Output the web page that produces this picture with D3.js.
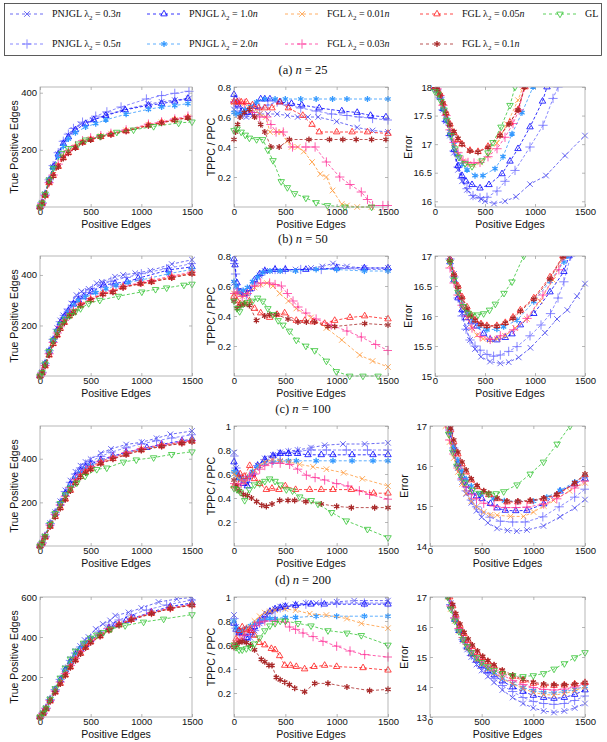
<!DOCTYPE html>
<html>
<head>
<meta charset="utf-8">
<script src="https://cdn.jsdelivr.net/npm/d3@7"></script>
<style>
  body { margin: 0; background: #fff; }
  text { font-family: "Liberation Sans", Arial, sans-serif; fill: #111; }
  .serif { font-family: "Liberation Serif", "DejaVu Serif", serif; }
</style>
</head>
<body>
<svg id="chart" width="607" height="742"></svg>
<script>
// series order: PNJGL 0.3n, 0.5n, 1.0n, 2.0n, FGL 0.01n, 0.03n, 0.05n, 0.1n, GL
const seriesNames = ['PNJGL', 'PNJGL', 'PNJGL', 'PNJGL', 'FGL', 'FGL', 'FGL', 'FGL', 'GL']
const seriesLambda = ['0.3', '0.5', '1.0', '2.0', '0.01', '0.03', '0.05', '0.1', null]
const seriesColors = ['#4646f0', '#6b6bff', '#0000ff', '#3399ff', '#ff9a3c', '#ff3399', '#ff1a1a', '#a82828', '#33c433']
const seriesMarkers = ['x', '+', 'tu', '*', 'x', '+', 'tu', '*', 'td']

const xTicks = [0, 500, 1000, 1500]
const rowLetters = ['(a)', '(b)', '(c)', '(d)']
const rowN = ['25', '50', '100', '200']
const tpeTicks = [[200, 400], [200, 400], [200, 400], [200, 400, 600]]
const tpeMax = [420, 475, 550, 600]
const ppcTicks = [[0.2, 0.4, 0.6, 0.8], [0.2, 0.4, 0.6, 0.8], [0.2, 0.4, 0.6, 0.8, 1], [0.2, 0.4, 0.6, 0.8, 1]]
const ppcMax = [0.8, 0.8, 1, 1]
const errTicks = [[16, 16.5, 17, 17.5, 18], [15, 15.5, 16, 16.5, 17], [14, 15, 16, 17], [13, 14, 15, 16, 17]]
const errDomain = [[15.9, 18], [15, 17], [14, 17], [13, 17]]

// each panel: 9 series as flat [x, y, x, y, ...]
const tpe25 = [
  [0,0, 20,15, 50,45, 90,95, 130,140, 180,185, 230,225, 280,250, 330,270, 400,290, 520,305, 650,322, 820,340, 1070,360, 1200,368, 1330,374, 1470,380],
  [0,0, 20,15, 50,45, 90,95, 130,145, 180,190, 230,230, 280,255, 330,275, 420,297, 550,318, 660,333, 800,350, 1050,378, 1200,390, 1330,398, 1470,405],
  [0,0, 20,14, 50,44, 90,93, 130,140, 180,185, 230,222, 280,245, 350,270, 450,292, 530,305, 650,320, 840,340, 1070,356, 1200,362, 1330,370, 1460,380],
  [0,0, 20,13, 50,42, 90,90, 130,135, 180,178, 230,212, 280,238, 350,260, 450,280, 550,292, 650,305, 850,325, 1070,342, 1200,350, 1330,355, 1460,362],
  [0,0, 20,12, 50,40, 90,85, 130,112, 180,145, 230,175, 280,192, 350,210, 420,228, 500,238, 600,248, 700,257, 850,268, 1070,288, 1200,296, 1330,305, 1460,314],
  [0,0, 20,12, 50,40, 90,85, 130,112, 180,150, 230,180, 280,197, 350,215, 420,232, 500,242, 600,250, 700,258, 850,270, 1070,290, 1200,298, 1330,308, 1460,318],
  [0,0, 20,12, 50,40, 90,85, 130,110, 180,142, 230,172, 280,190, 350,208, 420,226, 500,236, 600,246, 700,254, 850,266, 1070,286, 1200,296, 1330,305, 1460,313],
  [0,0, 20,12, 50,40, 90,85, 130,108, 180,140, 230,170, 280,188, 350,207, 420,225, 500,235, 600,245, 700,253, 850,265, 1070,285, 1200,294, 1330,304, 1460,312],
  [0,0, 20,14, 50,45, 90,95, 132,136, 214,188, 280,205, 379,221, 450,235, 593,247, 758,262, 923,270, 1121,282, 1368,294, 1500,298]
]
const ppc25 = [
  [0,0.65, 30,0.63, 70,0.61, 120,0.6, 180,0.61, 250,0.62, 330,0.62, 420,0.62, 520,0.61, 620,0.6, 720,0.6, 820,0.6, 1000,0.57, 1200,0.53, 1350,0.51, 1500,0.5],
  [0,0.7, 30,0.66, 70,0.63, 120,0.62, 180,0.63, 250,0.66, 330,0.68, 420,0.7, 520,0.68, 650,0.66, 800,0.64, 950,0.62, 1100,0.61, 1220,0.6, 1350,0.59, 1500,0.58],
  [0,0.75, 15,0.72, 40,0.68, 80,0.64, 130,0.63, 200,0.67, 260,0.72, 300,0.72, 350,0.72, 450,0.7, 560,0.69, 660,0.68, 830,0.66, 1050,0.64, 1200,0.63, 1330,0.61, 1480,0.6],
  [0,0.63, 20,0.62, 60,0.62, 110,0.65, 160,0.67, 220,0.7, 300,0.72, 400,0.72, 500,0.72, 650,0.72, 800,0.72, 960,0.72, 1100,0.72, 1300,0.72, 1500,0.72],
  [0,0.7, 50,0.7, 100,0.69, 180,0.65, 250,0.62, 310,0.6, 350,0.5, 420,0.5, 460,0.5, 520,0.44, 560,0.4, 620,0.4, 680,0.37, 760,0.3, 840,0.22, 900,0.2, 960,0.11, 1050,0.02, 1100,0.01, 1200,0, 1340,0],
  [0,0.7, 50,0.7, 100,0.69, 180,0.63, 250,0.6, 320,0.6, 360,0.55, 410,0.5, 480,0.5, 570,0.4, 700,0.4, 790,0.4, 900,0.3, 1030,0.2, 1130,0.15, 1240,0.1, 1300,0.05, 1350,0.01, 1450,0.01, 1500,0.01],
  [0,0.7, 30,0.7, 70,0.7, 120,0.7, 180,0.68, 240,0.66, 300,0.66, 370,0.66, 445,0.7, 530,0.66, 670,0.61, 760,0.55, 830,0.5, 1000,0.5, 1150,0.5, 1300,0.5, 1500,0.49],
  [0,0.45, 15,0.5, 35,0.55, 60,0.6, 100,0.63, 150,0.65, 200,0.6, 260,0.55, 300,0.5, 360,0.4, 440,0.4, 540,0.45, 730,0.45, 930,0.45, 1060,0.45, 1190,0.45, 1340,0.45, 1480,0.45],
  [0,0.51, 30,0.52, 70,0.5, 110,0.48, 150,0.46, 220,0.45, 280,0.45, 330,0.38, 380,0.31, 460,0.17, 520,0.13, 590,0.09, 700,0.06, 800,0.03, 910,0.01, 1080,0, 1340,0]
]
const err25 = [
  [0,18, 20,17.95, 50,17.82, 80,17.6, 110,17.4, 150,17.15, 190,16.85, 230,16.55, 270,16.35, 320,16.2, 380,16.08, 460,16.04, 500,16, 590,15.96, 700,16, 810,16.08, 950,16.3, 1110,16.45, 1300,16.8, 1500,17.15],
  [0,18, 20,17.95, 50,17.82, 80,17.6, 110,17.4, 150,17.15, 190,16.88, 230,16.6, 270,16.4, 320,16.22, 380,16.1, 450,16.06, 520,16.07, 620,16.18, 700,16.35, 800,16.54, 950,16.95, 1080,17.33, 1180,17.8, 1230,18],
  [0,18, 20,17.95, 50,17.82, 80,17.62, 110,17.42, 150,17.18, 190,16.9, 230,16.62, 270,16.45, 310,16.35, 370,16.29, 450,16.23, 540,16.29, 670,16.48, 750,16.7, 830,16.92, 950,17.3, 1075,17.75, 1120,18],
  [0,18, 20,17.95, 50,17.82, 80,17.63, 110,17.45, 150,17.22, 190,17, 230,16.8, 270,16.65, 320,16.55, 400,16.45, 480,16.45, 600,16.57, 680,16.78, 770,17.18, 870,17.55, 980,18],
  [0,18, 20,17.97, 50,17.85, 80,17.68, 110,17.5, 150,17.25, 190,17.02, 230,16.82, 280,16.7, 330,16.65, 380,16.64, 450,16.68, 530,16.8, 620,17.02, 720,17.35, 830,17.77, 880,18],
  [0,18, 20,17.97, 50,17.85, 80,17.68, 110,17.5, 150,17.25, 190,17.03, 230,16.85, 280,16.72, 330,16.68, 390,16.67, 450,16.68, 530,16.78, 620,16.92, 700,17.12, 780,17.36, 840,17.6, 890,18],
  [0,18, 20,17.98, 50,17.88, 80,17.72, 110,17.55, 150,17.35, 190,17.2, 230,17.08, 270,17, 350,16.89, 430,16.87, 530,16.96, 650,17.16, 750,17.38, 830,17.6, 900,18],
  [0,17.98, 20,17.96, 50,17.86, 80,17.72, 110,17.54, 150,17.34, 190,17.22, 230,17.1, 270,17, 350,16.88, 430,16.86, 530,16.94, 650,17.15, 740,17.35, 830,17.6, 895,18],
  [0,17.92, 30,17.88, 60,17.75, 90,17.6, 120,17.42, 160,17.15, 200,16.92, 240,16.77, 300,16.66, 370,16.61, 470,16.71, 530,16.85, 580,17.03, 660,17.3, 750,17.68, 800,18]
]
const tpe50 = [
  [0,0, 20,15, 50,50, 90,100, 130,145, 170,190, 200,220, 230,240, 265,255, 310,287, 360,320, 410,335, 480,345, 560,367, 610,373, 740,393, 820,400, 940,407, 1090,417, 1300,443, 1500,460],
  [0,0, 20,15, 50,50, 90,100, 130,145, 170,185, 200,215, 240,240, 280,265, 330,295, 380,315, 450,330, 520,345, 600,360, 700,375, 850,390, 1000,405, 1250,425, 1500,445],
  [0,0, 20,14, 50,48, 90,98, 130,142, 170,182, 200,210, 240,235, 280,258, 330,285, 380,300, 430,313, 510,333, 630,360, 740,367, 860,373, 970,387, 1270,420, 1500,432],
  [0,0, 20,14, 50,47, 90,96, 130,140, 170,178, 200,205, 240,230, 280,252, 330,280, 380,298, 450,312, 550,330, 650,345, 750,358, 870,370, 1000,380, 1270,405, 1500,422],
  [0,0, 20,12, 50,40, 90,85, 130,130, 170,165, 200,190, 240,215, 290,240, 330,255, 400,282, 500,303, 620,325, 720,335, 820,352, 1000,366, 1100,375, 1300,393, 1500,408],
  [0,0, 20,12, 50,42, 90,88, 130,133, 170,170, 200,195, 240,220, 290,245, 330,260, 400,285, 500,306, 620,328, 720,338, 820,355, 1000,370, 1100,378, 1300,396, 1500,411],
  [0,0, 20,12, 50,40, 90,83, 130,128, 170,162, 200,188, 240,212, 290,238, 330,252, 400,280, 500,302, 620,325, 720,333, 820,352, 990,367, 1100,373, 1300,390, 1500,406],
  [0,0, 20,12, 50,40, 90,82, 130,126, 170,160, 200,185, 240,210, 290,236, 330,250, 400,278, 500,300, 620,323, 720,332, 820,350, 990,365, 1100,372, 1300,388, 1500,405],
  [0,0, 20,14, 50,48, 90,98, 130,140, 170,175, 210,205, 250,225, 300,240, 350,255, 400,267, 480,287, 590,300, 775,316, 1005,333, 1140,343, 1250,349, 1420,360, 1500,364]
]
const ppc50 = [
  [0,0.62, 20,0.6, 50,0.57, 80,0.55, 120,0.55, 160,0.58, 200,0.62, 250,0.67, 300,0.7, 350,0.7, 450,0.7, 600,0.71, 750,0.72, 860,0.73, 964,0.75, 1100,0.73, 1270,0.72, 1500,0.72],
  [0,0.75, 15,0.68, 40,0.58, 80,0.55, 120,0.54, 160,0.57, 200,0.62, 250,0.67, 300,0.7, 400,0.71, 500,0.71, 650,0.71, 850,0.71, 1000,0.72, 1270,0.71, 1500,0.71],
  [0,0.78, 10,0.74, 30,0.62, 60,0.56, 100,0.55, 150,0.58, 200,0.64, 250,0.68, 300,0.7, 400,0.71, 500,0.71, 700,0.71, 1000,0.72, 1270,0.72, 1500,0.72],
  [0,0.63, 20,0.6, 50,0.56, 90,0.57, 130,0.59, 180,0.63, 230,0.66, 280,0.69, 350,0.7, 450,0.7, 600,0.7, 800,0.71, 1000,0.71, 1270,0.7, 1500,0.7],
  [0,0.55, 30,0.55, 80,0.53, 130,0.55, 200,0.59, 260,0.61, 320,0.62, 380,0.6, 445,0.55, 530,0.5, 607,0.45, 750,0.39, 900,0.32, 1050,0.24, 1224,0.14, 1350,0.1, 1500,0.06],
  [0,0.55, 30,0.56, 80,0.53, 130,0.55, 200,0.6, 260,0.62, 347,0.62, 400,0.61, 461,0.6, 520,0.55, 575,0.5, 623,0.46, 700,0.42, 800,0.38, 948,0.34, 1100,0.3, 1240,0.26, 1380,0.21, 1500,0.17],
  [0,0.53, 30,0.5, 60,0.48, 100,0.48, 150,0.5, 200,0.45, 260,0.42, 347,0.39, 420,0.41, 493,0.42, 607,0.37, 690,0.37, 769,0.36, 883,0.35, 981,0.37, 1130,0.39, 1273,0.4, 1500,0.38],
  [0,0.5, 30,0.45, 60,0.47, 100,0.48, 150,0.47, 218,0.37, 299,0.4, 347,0.41, 412,0.41, 526,0.38, 623,0.36, 705,0.36, 785,0.36, 915,0.33, 981,0.33, 1273,0.35, 1500,0.34],
  [0,0.5, 30,0.45, 55,0.43, 90,0.48, 130,0.49, 180,0.5, 230,0.52, 280,0.5, 330,0.45, 380,0.41, 430,0.37, 477,0.34, 540,0.3, 607,0.24, 700,0.2, 786,0.17, 900,0.1, 997,0.03, 1127,0, 1256,0, 1403,0]
]
const err50 = [
  [100,17.6, 150,17, 190,16.7, 230,16.35, 270,16.05, 310,15.8, 350,15.6, 400,15.45, 459,15.32, 550,15.24, 653,15.21, 737,15.23, 837,15.31, 954,15.47, 1100,15.72, 1220,15.95, 1323,16.1, 1420,16.33, 1500,16.54],
  [100,17.5, 150,16.95, 190,16.65, 230,16.3, 270,16, 310,15.78, 350,15.6, 400,15.5, 452,15.43, 520,15.36, 586,15.33, 653,15.35, 737,15.41, 820,15.49, 950,15.67, 1060,15.85, 1155,16.04, 1230,16.3, 1289,16.57, 1356,17],
  [100,17.4, 150,16.9, 190,16.6, 230,16.3, 270,16.1, 310,15.97, 360,15.9, 419,15.83, 486,15.71, 552,15.61, 619,15.6, 703,15.64, 770,15.7, 854,15.85, 988,16.04, 1150,16.4, 1289,16.74, 1340,17],
  [100,17.3, 150,16.9, 190,16.65, 230,16.4, 270,16.2, 320,16.05, 380,15.92, 440,15.83, 519,15.77, 619,15.78, 686,15.82, 820,15.93, 988,16.24, 1150,16.58, 1289,16.9, 1320,17],
  [100,17.2, 150,16.85, 190,16.6, 230,16.38, 270,16.18, 320,15.98, 370,15.8, 420,15.68, 480,15.62, 550,15.6, 620,15.62, 700,15.67, 800,15.8, 920,15.95, 1050,16.25, 1180,16.6, 1280,17],
  [100,17.2, 150,16.8, 190,16.55, 230,16.35, 270,16.18, 320,16, 370,15.8, 452,15.66, 552,15.61, 653,15.67, 787,15.77, 921,15.96, 1080,16.35, 1239,16.77, 1290,17],
  [100,17.3, 150,16.95, 190,16.7, 230,16.5, 270,16.32, 320,16.15, 360,16.02, 402,15.93, 460,15.87, 519,15.84, 619,15.84, 703,15.89, 780,15.98, 854,16.1, 988,16.3, 1150,16.65, 1279,17],
  [100,17.3, 150,16.92, 190,16.68, 230,16.48, 270,16.3, 320,16.12, 360,16, 402,15.93, 460,15.86, 519,15.83, 619,15.83, 703,15.88, 780,15.96, 854,16.08, 988,16.28, 1150,16.62, 1279,16.99],
  [100,17.4, 150,16.9, 190,16.6, 230,16.4, 285,16.16, 330,16.05, 368,16.02, 430,16.02, 486,16.04, 545,16.1, 603,16.2, 690,16.38, 770,16.57, 887,17]
]
const tpe100 = [
  [0,0, 20,15, 50,45, 100,105, 150,155, 200,205, 250,255, 300,300, 350,340, 400,368, 450,385, 500,398, 600,425, 700,445, 850,465, 1005,476, 1150,494, 1286,512, 1500,527],
  [0,0, 20,15, 50,45, 100,103, 150,153, 200,200, 250,250, 300,292, 350,330, 400,358, 450,375, 500,388, 600,410, 700,430, 850,450, 1000,468, 1150,482, 1300,495, 1500,510],
  [0,0, 20,14, 50,44, 100,100, 150,150, 200,195, 250,240, 300,282, 350,318, 400,345, 450,362, 500,375, 600,395, 720,412, 850,430, 1055,451, 1200,466, 1401,482, 1500,490],
  [0,0, 20,14, 50,44, 100,100, 150,148, 200,192, 250,235, 300,275, 350,310, 400,338, 450,355, 500,368, 600,390, 720,407, 850,425, 1000,442, 1200,460, 1400,476, 1500,484],
  [0,0, 20,13, 50,42, 100,95, 150,143, 200,185, 250,225, 300,265, 350,300, 400,325, 450,345, 500,360, 600,385, 720,405, 850,425, 1000,445, 1200,462, 1400,475, 1500,482],
  [0,0, 20,13, 50,42, 100,96, 150,145, 200,188, 250,228, 300,268, 350,303, 400,328, 450,348, 500,363, 600,388, 720,408, 850,428, 1000,447, 1200,464, 1400,477, 1500,484],
  [0,0, 20,12, 50,40, 100,90, 150,135, 200,175, 250,215, 300,255, 350,290, 400,318, 450,338, 500,353, 600,380, 720,400, 850,420, 1000,440, 1200,458, 1400,472, 1500,480],
  [0,0, 20,12, 50,40, 100,88, 150,132, 200,172, 250,212, 300,252, 350,287, 400,315, 450,335, 500,350, 600,377, 720,398, 850,418, 1000,438, 1200,456, 1400,470, 1500,478],
  [0,0, 20,14, 50,45, 100,100, 150,150, 200,195, 250,235, 300,265, 363,289, 445,320, 560,351, 659,358, 824,385, 950,395, 1121,405, 1300,420, 1500,432]
]
const ppc100 = [
  [0,0.78, 20,0.65, 50,0.58, 90,0.55, 130,0.52, 180,0.6, 230,0.67, 300,0.73, 380,0.76, 450,0.78, 530,0.79, 620,0.8, 750,0.82, 883,0.84, 1061,0.85, 1273,0.85, 1500,0.86],
  [0,0.75, 20,0.65, 50,0.58, 90,0.55, 130,0.53, 180,0.6, 230,0.67, 300,0.72, 380,0.75, 450,0.77, 530,0.78, 620,0.79, 750,0.8, 900,0.8, 1094,0.8, 1300,0.8, 1500,0.8],
  [0,0.7, 20,0.62, 50,0.57, 90,0.52, 130,0.5, 180,0.6, 230,0.67, 300,0.72, 380,0.75, 450,0.77, 530,0.77, 620,0.77, 721,0.76, 850,0.76, 964,0.76, 1150,0.76, 1354,0.76, 1500,0.76],
  [0,0.62, 20,0.6, 50,0.56, 90,0.55, 130,0.57, 180,0.62, 230,0.66, 300,0.69, 380,0.7, 450,0.71, 530,0.71, 607,0.71, 800,0.71, 964,0.71, 1150,0.71, 1354,0.71, 1500,0.71],
  [0,0.6, 30,0.58, 70,0.55, 110,0.53, 150,0.58, 200,0.63, 250,0.67, 300,0.7, 370,0.72, 450,0.71, 540,0.7, 640,0.68, 770,0.66, 900,0.64, 1068,0.61, 1250,0.56, 1500,0.5],
  [0,0.52, 30,0.5, 70,0.52, 110,0.55, 150,0.58, 200,0.6, 250,0.64, 300,0.67, 370,0.69, 450,0.69, 542,0.68, 620,0.64, 705,0.59, 790,0.57, 883,0.55, 1000,0.52, 1110,0.5, 1221,0.46, 1321,0.43, 1500,0.39],
  [0,0.5, 30,0.48, 60,0.6, 100,0.58, 153,0.67, 200,0.56, 250,0.52, 315,0.47, 370,0.48, 438,0.47, 500,0.5, 600,0.47, 737,0.47, 850,0.47, 964,0.47, 1143,0.47, 1360,0.44, 1500,0.44],
  [0,0.55, 20,0.5, 50,0.46, 90,0.43, 130,0.42, 170,0.4, 220,0.37, 270,0.34, 315,0.33, 370,0.35, 445,0.38, 526,0.38, 591,0.38, 700,0.37, 850,0.35, 1000,0.33, 1143,0.32, 1370,0.32, 1500,0.32],
  [0,0.48, 30,0.47, 60,0.45, 104,0.38, 150,0.47, 200,0.51, 250,0.52, 300,0.54, 347,0.56, 400,0.54, 450,0.51, 510,0.47, 570,0.46, 640,0.41, 753,0.38, 818,0.35, 950,0.28, 1094,0.21, 1300,0.14, 1500,0.07]
]
const err100 = [
  [150,17.5, 190,16.9, 230,16.4, 270,15.95, 310,15.6, 350,15.3, 400,15.08, 450,14.88, 500,14.72, 560,14.58, 649,14.44, 750,14.39, 840,14.37, 938,14.4, 1098,14.5, 1259,14.73, 1400,14.95, 1500,15.16],
  [150,17.5, 190,16.9, 230,16.45, 270,16, 310,15.65, 350,15.38, 400,15.15, 450,14.98, 500,14.85, 580,14.72, 681,14.62, 800,14.6, 922,14.6, 1092,14.73, 1250,14.98, 1400,15.22, 1500,15.42],
  [150,17.4, 190,16.85, 230,16.4, 270,16.05, 310,15.75, 350,15.52, 400,15.35, 450,15.25, 504,15.18, 585,15.06, 650,14.95, 729,14.89, 830,14.88, 938,14.89, 1100,15.05, 1259,15.37, 1400,15.55, 1500,15.68],
  [150,17.3, 190,16.9, 230,16.5, 270,16.15, 310,15.88, 350,15.68, 400,15.5, 488,15.3, 617,15.18, 720,15.13, 850,15.11, 1002,15.12, 1130,15.22, 1259,15.39, 1400,15.6, 1500,15.75],
  [150,17, 190,16.6, 230,16.2, 270,15.85, 310,15.55, 350,15.32, 400,15.12, 450,14.98, 520,14.85, 585,14.78, 649,14.77, 780,14.74, 906,14.74, 1002,14.85, 1100,15, 1195,15.14, 1350,15.38, 1500,15.58],
  [150,17.05, 190,16.65, 230,16.3, 270,15.95, 310,15.68, 350,15.48, 400,15.3, 450,15.18, 520,15.07, 620,15, 729,14.96, 830,14.96, 938,14.97, 1100,15.05, 1227,15.18, 1400,15.45, 1500,15.62],
  [200,16.9, 230,16.6, 270,16.3, 310,16.05, 350,15.85, 400,15.65, 456,15.48, 520,15.35, 569,15.28, 650,15.18, 745,15.1, 850,15.1, 970,15.12, 1100,15.18, 1227,15.28, 1400,15.55, 1500,15.78],
  [200,16.95, 230,16.65, 270,16.35, 310,16.1, 350,15.9, 400,15.68, 456,15.51, 520,15.38, 569,15.32, 650,15.2, 745,15.12, 850,15.12, 970,15.14, 1100,15.2, 1227,15.29, 1400,15.58, 1500,15.8],
  [150,17.1, 180,16.8, 220,16.35, 260,16, 300,15.75, 340,15.58, 408,15.4, 480,15.32, 569,15.3, 640,15.31, 713,15.36, 842,15.53, 970,15.8, 1098,16.1, 1230,16.55, 1355,17]
]
const tpe200 = [
  [0,0, 30,20, 60,45, 100,90, 150,140, 200,192, 250,245, 300,290, 350,330, 396,355, 440,385, 478,400, 550,440, 620,465, 692,483, 742,507, 874,523, 1000,545, 1170,575, 1350,590, 1500,598],
  [0,0, 30,20, 60,45, 100,88, 150,137, 200,188, 250,240, 300,283, 350,320, 400,350, 450,375, 500,395, 580,425, 680,460, 780,485, 900,510, 1050,535, 1250,560, 1500,585],
  [0,0, 30,20, 60,44, 100,87, 150,135, 200,185, 250,235, 300,275, 350,310, 400,340, 450,362, 500,385, 593,415, 680,445, 742,460, 850,483, 923,495, 1100,525, 1286,553, 1500,570],
  [0,0, 30,20, 60,44, 100,87, 150,135, 200,183, 250,230, 300,270, 350,308, 400,345, 450,370, 500,388, 593,413, 680,440, 780,465, 900,490, 1100,520, 1286,545, 1500,565],
  [0,0, 30,18, 60,42, 100,82, 150,128, 200,172, 250,215, 300,255, 350,290, 400,325, 450,355, 500,380, 593,410, 680,440, 780,465, 900,490, 1100,520, 1286,545, 1500,562],
  [0,0, 30,18, 60,42, 100,83, 150,130, 200,175, 250,218, 300,258, 350,293, 400,328, 450,358, 500,382, 593,412, 680,442, 780,466, 900,490, 1100,522, 1286,546, 1500,563],
  [0,0, 30,18, 60,40, 100,80, 150,125, 200,168, 250,210, 300,250, 350,285, 400,318, 450,348, 500,375, 593,405, 680,435, 780,460, 900,487, 1100,518, 1286,543, 1500,560],
  [0,0, 30,17, 60,40, 100,78, 150,122, 200,165, 250,207, 300,247, 350,282, 400,315, 450,345, 500,372, 593,403, 680,433, 780,458, 900,485, 1100,516, 1286,542, 1500,558],
  [0,0, 30,20, 60,45, 100,90, 150,142, 200,195, 250,245, 300,290, 350,330, 429,370, 500,395, 560,410, 626,423, 700,440, 840,457, 1022,475, 1220,490, 1500,512]
]
const ppc200 = [
  [0,0.85, 20,0.75, 50,0.71, 80,0.7, 120,0.63, 160,0.66, 200,0.72, 250,0.78, 300,0.83, 350,0.87, 400,0.9, 450,0.92, 500,0.93, 600,0.94, 700,0.95, 800,0.95, 1000,0.96, 1170,0.97, 1500,0.97],
  [0,0.82, 20,0.74, 50,0.7, 80,0.7, 120,0.64, 160,0.67, 200,0.72, 250,0.78, 300,0.83, 350,0.87, 400,0.89, 450,0.91, 500,0.92, 600,0.93, 700,0.94, 850,0.95, 1000,0.95, 1270,0.95, 1500,0.95],
  [0,0.78, 20,0.73, 50,0.7, 80,0.7, 120,0.66, 160,0.7, 200,0.75, 250,0.8, 300,0.85, 350,0.88, 400,0.9, 450,0.91, 500,0.92, 600,0.93, 750,0.94, 880,0.94, 1270,0.94, 1500,0.94],
  [0,0.8, 20,0.74, 50,0.72, 80,0.72, 120,0.74, 160,0.76, 200,0.78, 250,0.8, 300,0.81, 350,0.82, 400,0.82, 500,0.83, 600,0.83, 800,0.84, 1000,0.84, 1270,0.84, 1500,0.84],
  [0,0.6, 30,0.6, 60,0.64, 100,0.7, 150,0.75, 200,0.8, 250,0.84, 300,0.87, 350,0.88, 400,0.89, 500,0.9, 600,0.89, 737,0.86, 900,0.85, 1100,0.82, 1240,0.78, 1500,0.74],
  [0,0.6, 30,0.62, 60,0.65, 100,0.68, 150,0.72, 200,0.76, 250,0.79, 300,0.8, 400,0.8, 500,0.79, 542,0.75, 600,0.73, 672,0.7, 770,0.67, 867,0.63, 1000,0.59, 1130,0.55, 1273,0.52, 1500,0.5],
  [0,0.6, 20,0.65, 50,0.72, 80,0.75, 120,0.73, 160,0.72, 200,0.68, 250,0.62, 300,0.6, 364,0.57, 400,0.56, 445,0.51, 494,0.43, 550,0.43, 607,0.42, 688,0.4, 780,0.42, 883,0.43, 1000,0.42, 1257,0.41, 1500,0.39],
  [0,0.58, 20,0.6, 50,0.62, 80,0.63, 120,0.62, 160,0.6, 200,0.56, 266,0.48, 300,0.46, 340,0.43, 370,0.43, 412,0.33, 450,0.31, 494,0.29, 540,0.27, 591,0.24, 688,0.21, 786,0.28, 915,0.28, 1100,0.25, 1321,0.22, 1500,0.23],
  [0,0.6, 20,0.58, 50,0.56, 80,0.56, 120,0.57, 160,0.58, 200,0.61, 250,0.66, 300,0.72, 350,0.76, 400,0.78, 450,0.8, 500,0.8, 623,0.78, 750,0.76, 915,0.72, 1100,0.7, 1240,0.68, 1500,0.6]
]
const err200 = [
  [170,17.2, 200,16.8, 240,16.3, 280,15.9, 320,15.55, 360,15.25, 400,15, 450,14.75, 500,14.55, 560,14.35, 620,14.15, 700,13.9, 800,13.65, 900,13.45, 1000,13.3, 1100,13.2, 1200,13.15, 1300,13.2, 1400,13.3, 1500,13.45],
  [170,17.1, 200,16.75, 240,16.3, 280,15.9, 320,15.58, 360,15.3, 400,15.05, 450,14.82, 500,14.62, 560,14.45, 620,14.28, 700,14.05, 800,13.85, 900,13.65, 1000,13.52, 1100,13.45, 1200,13.42, 1300,13.45, 1400,13.55, 1500,13.7],
  [170,17.1, 200,16.7, 240,16.25, 280,15.88, 320,15.58, 360,15.32, 400,15.1, 450,14.9, 500,14.72, 560,14.55, 620,14.4, 700,14.2, 800,14, 900,13.85, 1000,13.72, 1100,13.65, 1200,13.62, 1300,13.65, 1400,13.75, 1500,13.9],
  [170,17, 200,16.65, 240,16.25, 280,15.9, 320,15.6, 360,15.36, 400,15.15, 450,14.95, 500,14.78, 560,14.62, 620,14.48, 700,14.3, 800,14.12, 900,13.98, 1000,13.88, 1100,13.82, 1200,13.8, 1300,13.85, 1400,13.92, 1500,14.02],
  [170,17, 200,16.6, 240,16.2, 280,15.85, 320,15.55, 360,15.32, 400,15.12, 450,14.92, 500,14.76, 560,14.6, 620,14.46, 700,14.28, 800,14.1, 900,13.95, 1000,13.82, 1100,13.75, 1200,13.73, 1300,13.78, 1400,13.88, 1500,14],
  [170,17.1, 200,16.7, 240,16.3, 280,15.95, 320,15.65, 360,15.42, 400,15.22, 450,15.02, 500,14.86, 560,14.7, 620,14.56, 700,14.4, 800,14.22, 900,14.08, 1000,13.98, 1100,13.92, 1200,13.9, 1300,13.93, 1400,14, 1500,14.1],
  [190,17, 220,16.7, 250,16.4, 290,16.05, 330,15.78, 370,15.55, 410,15.35, 460,15.15, 510,14.98, 560,14.84, 620,14.7, 700,14.52, 800,14.35, 900,14.22, 1000,14.12, 1100,14.06, 1200,14.05, 1300,14.06, 1400,14.1, 1500,14.15],
  [190,17.05, 220,16.75, 250,16.45, 290,16.1, 330,15.82, 370,15.6, 410,15.4, 460,15.2, 510,15.02, 560,14.88, 620,14.74, 700,14.56, 800,14.4, 900,14.26, 1000,14.16, 1100,14.1, 1200,14.08, 1300,14.08, 1400,14.1, 1500,14.15],
  [170,17, 200,16.6, 240,16.2, 280,15.85, 320,15.58, 360,15.35, 400,15.15, 450,14.98, 500,14.82, 560,14.68, 620,14.56, 700,14.45, 800,14.38, 900,14.35, 1000,14.38, 1100,14.45, 1200,14.6, 1300,14.78, 1400,14.98, 1500,15.15]
]

const svg = d3.select('#chart')
svg.append('rect').attr('width', 607).attr('height', 742).attr('fill', '#fff')

const pairs = a => d3.range(0, a.length, 2).map(i => [a[i], a[i + 1]])

const symbolFor = m => {
  if (m === 'x') return d3.symbol(d3.symbolTimes, 22)
  if (m === '+') return d3.symbol(d3.symbolPlus, 30)
  if (m === '*') return d3.symbol(d3.symbolAsterisk, 26)
  return d3.symbol(d3.symbolTriangle2, 30)
}

const drawMarker = (g, m, color, cx, cy) => {
  g.append('path')
    .attr('d', symbolFor(m)())
    .attr('transform', `translate(${cx},${cy})` + (m === 'td' ? ' rotate(180)' : ''))
    .attr('fill', 'none')
    .attr('stroke', color)
    .attr('stroke-width', m === '*' ? 1.3 : 0.8)
}

// ---- legend
svg.append('rect').attr('x', 4.5).attr('y', 3.5).attr('width', 597).attr('height', 52)
  .attr('fill', 'none').attr('stroke', '#333').attr('stroke-width', 0.8)

const legCols = [10, 147, 285, 420, 543]
const legRows = [17, 47]
seriesNames.forEach((name, i) => {
  const lx = legCols[Math.floor(i / 2)], ly = legRows[i % 2]
  const g = svg.append('g')
  g.append('line').attr('x1', lx).attr('x2', lx + 34).attr('y1', ly - 3).attr('y2', ly - 3)
    .attr('stroke', seriesColors[i]).attr('stroke-width', 0.8).attr('stroke-dasharray', '3,3')
  drawMarker(g, seriesMarkers[i], seriesColors[i], lx + 17, ly - 3)
  const t = g.append('text').attr('class', 'serif').attr('x', lx + 42).attr('y', ly)
    .attr('font-size', 10)
  t.append('tspan').text(name)
  if (seriesLambda[i]) {
    t.append('tspan').text(' λ')
    t.append('tspan').attr('font-size', 7).attr('dy', 2.5).text('2')
    t.append('tspan').attr('dy', -2.5).text(' = ' + seriesLambda[i])
    t.append('tspan').attr('font-style', 'italic').text('n')
  }
})

// ---- panels
const rowTop = [87, 256, 426, 597]
const H = 120
const rowData = [[tpe25, ppc25, err25], [tpe50, ppc50, err50], [tpe100, ppc100, err100], [tpe200, ppc200, err200]]
const fmtTpe = d3.format('d')
const fmtPpc = d => d === 1 ? '1' : d3.format('.1f')(d)
const fmtErr = d => Number.isInteger(d) ? String(d) : d.toFixed(1)

function panel(r, c) {
  const left = c === 0 ? 40 : c === 1 ? 234 : (r < 2 ? 435 : 430)
  const right = c === 0 ? 192 : c === 1 ? 388 : 585
  const top = rowTop[r], w = right - left
  const x = d3.scaleLinear().domain([0, 1500]).range([0, w])
  let y, ticks, fmt, label, labelX
  if (c === 0) {
    y = d3.scaleLinear().domain([0, tpeMax[r]]).range([H, 0]); ticks = tpeTicks[r]; fmt = fmtTpe
    label = 'True Positive Edges'; labelX = 18
  } else if (c === 1) {
    y = d3.scaleLinear().domain([0, ppcMax[r]]).range([H, 0]); ticks = ppcTicks[r]; fmt = fmtPpc
    label = 'TPPC / PPC'; labelX = 215
  } else {
    y = d3.scaleLinear().domain(errDomain[r]).range([H, 0]); ticks = errTicks[r]; fmt = fmtErr
    label = 'Error'; labelX = r < 2 ? 412 : 408
  }
  const g = svg.append('g').attr('transform', `translate(${left},${top})`)
  const clipId = `clip-${r}-${c}`
  g.append('clipPath').attr('id', clipId).append('rect')
    .attr('x', -4).attr('y', 0).attr('width', w + 8).attr('height', H + 4)

  const styleAxis = a => {
    a.select('.domain').remove()
    a.selectAll('.tick line').attr('stroke', '#888').attr('stroke-width', 0.6)
    a.selectAll('.tick text').attr('font-size', 9.5).attr('fill', '#111')
      .style('font-family', '"Liberation Sans", Arial, sans-serif')
  }
  g.append('g').attr('transform', `translate(0,${H})`)
    .call(d3.axisBottom(x).tickValues(xTicks).tickSize(-3).tickPadding(1.5).tickFormat(d3.format('d')))
    .call(styleAxis)
  g.append('g')
    .call(d3.axisLeft(y).tickValues(ticks).tickSize(-3).tickPadding(3).tickFormat(fmt))
    .call(styleAxis)
  g.append('g')
    .call(d3.axisTop(x).tickValues(xTicks).tickSize(-3).tickFormat(''))
    .call(styleAxis)
  g.append('g').attr('transform', `translate(${w},0)`)
    .call(d3.axisRight(y).tickValues(ticks).tickSize(-3).tickFormat(''))
    .call(styleAxis)

  const plot = g.append('g').attr('clip-path', `url(#${clipId})`)
  const line = d3.line().x(d => x(d[0])).y(d => y(d[1]))
  rowData[r][c].forEach((flat, i) => {
    const pts = pairs(flat)
    plot.append('path').attr('d', line(pts)).attr('fill', 'none')
      .attr('stroke', seriesColors[i]).attr('stroke-width', 0.8).attr('stroke-dasharray', '3,2')
    pts.forEach(p => drawMarker(plot, seriesMarkers[i], seriesColors[i], x(p[0]), y(p[1])))
  })

  g.append('rect').attr('width', w).attr('height', H).attr('fill', 'none')
    .attr('stroke', '#999').attr('stroke-width', 0.7)

  g.append('text').attr('x', w / 2).attr('y', H + 21).attr('text-anchor', 'middle')
    .attr('font-size', 10.5).text('Positive Edges')
  svg.append('text').attr('transform', `translate(${labelX},${top + H / 2}) rotate(-90)`)
    .attr('text-anchor', 'middle').attr('font-size', 10.5).text(label)
}

rowLetters.forEach((lt, r) => {
  const t = svg.append('text').attr('class', 'serif').attr('x', 303).attr('y', rowTop[r] - 13)
    .attr('text-anchor', 'middle').attr('font-size', 12.5)
  t.append('tspan').text(lt + ' ')
  t.append('tspan').attr('font-style', 'italic').text('n')
  t.append('tspan').text(' = ' + rowN[r])
  for (let c = 0; c < 3; c++) panel(r, c)
})
</script>
</body>
</html>
